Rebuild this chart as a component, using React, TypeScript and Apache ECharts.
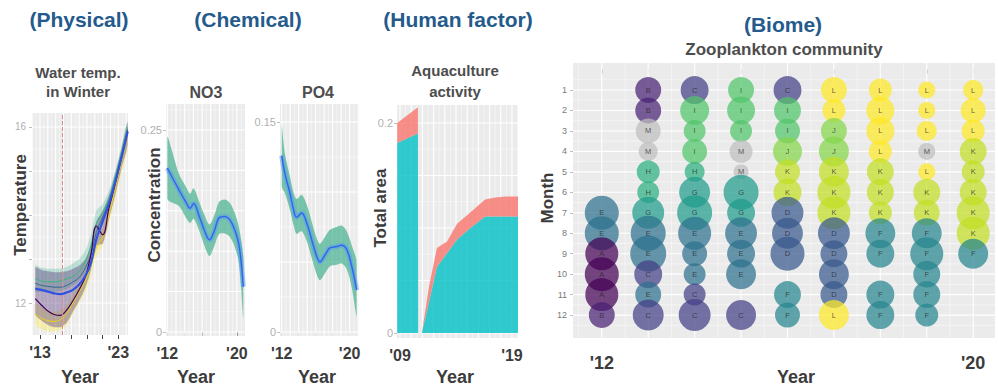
import React, { useEffect, useRef } from "react";
import * as echarts from "echarts";

const FONT = "'Liberation Sans', Arial, Helvetica, sans-serif";
const BG = "#EBEBEB";
const BLUE = "#245a8c";
const DARK = "#3c3c3c";
const TITLE = "#4d4d4d";

// ---------- Physical: water temperature in winter ----------
const tempYears = [2012.4, 2013.2, 2014.0, 2014.8, 2015.6, 2016.4, 2017.2, 2018.0, 2018.8, 2019.5, 2020.2, 2021.0, 2021.8, 2022.6, 2023.4, 2024.2];
const tempMain = [12.32, 12.3, 12.26, 12.22, 12.2, 12.24, 12.3, 12.42, 12.62, 12.9, 13.45, 13.85, 14.25, 14.75, 15.3, 15.9];
const tempPurple = [12.1, 11.95, 11.82, 11.74, 11.72, 11.84, 12.05, 12.3, 12.6, 13.1, 13.75, 13.55, 14.15, 14.7, 15.3, 15.9];
const tempYellow = [11.75, 11.65, 11.6, 11.58, 11.62, 11.76, 12.0, 12.25, 12.5, 12.85, 13.25, 13.5, 14.0, 14.6, 15.2, 15.8];
const tempGreen = [12.55, 12.5, 12.48, 12.48, 12.5, 12.55, 12.6, 12.72, 12.95, 13.3, 13.8, 14.05, 14.35, 14.85, 15.4, 16.0];
const tempNavy = [12.45, 12.4, 12.38, 12.36, 12.36, 12.4, 12.48, 12.58, 12.8, 13.1, 13.6, 13.95, 14.3, 14.75, 15.35, 15.95];
const tempPurpleLo = [11.75, 11.6, 11.5, 11.45, 11.45, 11.55, 11.8, 12.05, 12.35, 12.75, 13.3, 13.35, 13.9, 14.45, 15.05, 15.6];
const tempPurpleHi = [12.8, 12.75, 12.72, 12.7, 12.7, 12.72, 12.78, 12.85, 13.0, 13.3, 13.85, 14.1, 14.45, 14.95, 15.5, 16.1];
const tempGreenLo = [12.25, 12.25, 12.25, 12.25, 12.28, 12.32, 12.4, 12.5, 12.7, 13.05, 13.6, 13.9, 14.2, 14.65, 15.2, 15.75];
const tempGreenHi = [12.85, 12.8, 12.78, 12.78, 12.78, 12.82, 12.9, 13.0, 13.2, 13.55, 14.1, 14.25, 14.55, 15.0, 15.55, 16.15];
const tempYellowLo = [11.5, 11.4, 11.35, 11.35, 11.38, 11.5, 11.75, 12.0, 12.25, 12.6, 13.05, 13.3, 13.8, 14.35, 14.95, 15.5];
const tempYellowHi = [12.0, 11.9, 11.82, 11.8, 11.82, 11.95, 12.2, 12.45, 12.7, 13.05, 13.45, 13.7, 14.2, 14.8, 15.4, 16.0];
const tempBreakYear = 2015.85;
const tempXTicks = [2013, 2015, 2017, 2019, 2021, 2023];
const tempXLabels = [2013, 2023];
const tempYTicks = [12, 13, 14, 15, 16];
const tempYLabels = [12, 16];

// ---------- Chemical: NO3 ----------
const no3Years = [2012.0, 2013.34, 2014.12, 2014.63, 2015.02, 2015.68, 2016.26, 2016.85, 2017.43, 2017.94, 2018.6, 2019.18, 2019.77, 2020.27, 2020.74];
const no3Fit = [0.203, 0.176, 0.161, 0.153, 0.159, 0.143, 0.126, 0.114, 0.126, 0.141, 0.143, 0.139, 0.126, 0.106, 0.056];
const no3Upper = [0.242, 0.196, 0.18, 0.171, 0.178, 0.161, 0.145, 0.133, 0.145, 0.161, 0.164, 0.16, 0.147, 0.128, 0.092];
const no3Lower = [0.165, 0.156, 0.142, 0.135, 0.14, 0.125, 0.107, 0.094, 0.107, 0.121, 0.122, 0.118, 0.105, 0.083, 0.018];
const no3YLabels = [0, 0.25];

// ---------- Chemical: PO4 ----------
const po4Years = [2012.0, 2012.39, 2012.98, 2013.37, 2013.76, 2014.35, 2014.94, 2015.53, 2016.12, 2016.5, 2017.1, 2017.68, 2018.47, 2019.06, 2019.65, 2020.24, 2020.82];
const po4Fit = [0.126, 0.113, 0.099, 0.088, 0.082, 0.085, 0.078, 0.066, 0.054, 0.05, 0.055, 0.06, 0.061, 0.062, 0.059, 0.047, 0.03];
const po4Upper = [0.148, 0.127, 0.111, 0.1, 0.095, 0.098, 0.091, 0.079, 0.067, 0.063, 0.068, 0.073, 0.075, 0.076, 0.072, 0.062, 0.05];
const po4Lower = [0.104, 0.099, 0.087, 0.077, 0.07, 0.072, 0.065, 0.053, 0.041, 0.037, 0.042, 0.047, 0.048, 0.049, 0.045, 0.032, 0.011];
const po4YLabels = [0, 0.15];

const chemXTicks = [2012, 2014, 2016, 2018, 2020];
const chemXLabels = [2012, 2020];

// ---------- Human factor: aquaculture ----------
const aquaYears = [2008.75, 2010.6, 2010.62, 2010.95, 2011.6, 2012.3, 2013.2, 2014.1, 2015.4, 2016.6, 2017.5, 2018.5, 2019.55];
const aquaTeal = [0.181, 0.19, 0, 0, 0.03, 0.063, 0.076, 0.089, 0.101, 0.111, 0.111, 0.111, 0.111];
const aquaSalmon = [0.019, 0.025, 0, 0, 0.015, 0.018, 0.011, 0.015, 0.015, 0.016, 0.018, 0.019, 0.019];
const aquaXLabels = [2009, 2019];
const aquaYLabels = [0, 0.2];

// ---------- Biome: zooplankton community ----------
const zooYears = [2012, 2013, 2014, 2015, 2016, 2017, 2018, 2019, 2020];
const zooMonths = [1, 2, 3, 4, 5, 6, 7, 8, 9, 10, 11, 12];
const zooTaxa: string[][] = [
  ["", "", "", "", "", "", "E", "E", "A", "A", "A", "B"],
  ["B", "B", "M", "M", "H", "H", "G", "E", "E", "C", "E", "C"],
  ["C", "I", "I", "I", "H", "G", "G", "E", "E", "E", "C", "C"],
  ["I", "I", "I", "M", "M", "G", "G", "E", "E", "E", "", "C"],
  ["C", "I", "I", "J", "K", "K", "D", "D", "D", "", "F", "F"],
  ["L", "L", "J", "J", "K", "K", "K", "D", "D", "D", "D", "L"],
  ["L", "L", "L", "L", "K", "K", "K", "F", "F", "", "F", "F"],
  ["L", "L", "L", "M", "L", "K", "K", "F", "F", "F", "F", "F"],
  ["L", "L", "L", "K", "K", "K", "K", "K", "F", "", "", ""],
];
const zooAbundance: number[][] = [
  [0, 0, 0, 0, 0, 0, 17, 17, 16.5, 17, 16.5, 13],
  [13, 13, 12.5, 9.5, 11.5, 11, 16, 17.5, 18, 14, 13, 15.5],
  [14, 14.5, 11, 12.5, 10, 15.5, 17.5, 16.5, 12.5, 11, 11, 16],
  [13, 14, 11, 11.5, 7.5, 17.5, 14, 16, 14, 15, 0, 15],
  [14, 13.5, 12.5, 14.5, 12.5, 14, 16, 15.5, 17, 0, 13.5, 12.5],
  [13, 11.5, 13, 15, 15, 16.5, 16.5, 16, 13.5, 15, 13.5, 15],
  [11.5, 14, 14, 11.5, 13.5, 13.5, 11.5, 15, 14, 0, 14, 14],
  [8.5, 8.5, 10, 8.5, 8.5, 13.5, 13, 15, 16.5, 13.5, 13.5, 11.5],
  [10, 12.5, 11.5, 13.5, 11.5, 13.5, 16.5, 16.5, 15, 0, 0, 0],
];
const taxonColors: Record<string, string> = {
  A: "#440154", B: "#482173", C: "#433E85", D: "#38598C", E: "#2D708E", F: "#25858E",
  G: "#1E9B8A", H: "#2BB07F", I: "#51C56A", J: "#85D54A", K: "#C2DF23", L: "#FDE725", M: "#BEBEBE",
};
const zooXLabels = [2012, 2020];

// ---------- helpers ----------
function seq(from: number, to: number, step: number): number[] {
  const out: number[] = [];
  for (let v = from; v <= to + 1e-9; v += step) out.push(Math.round(v * 1000) / 1000);
  return out;
}

function gridLines(idx: number, xMajor: number[], xMinor: number[], yMajor: number[], yMinor: number[]) {
  const data: number[][] = [];
  xMinor.forEach((v) => data.push([0, v, 0.6]));
  yMinor.forEach((v) => data.push([1, v, 0.6]));
  xMajor.forEach((v) => data.push([0, v, 1.1]));
  yMajor.forEach((v) => data.push([1, v, 1.1]));
  return {
    type: "custom",
    xAxisIndex: idx,
    yAxisIndex: idx,
    silent: true,
    clip: true,
    z: 1,
    data,
    renderItem: (params: any, api: any) => {
      const cs = params.coordSys;
      const o = api.value(0);
      const v = api.value(1);
      const w = api.value(2);
      const stroke = w > 1 ? "#ffffff" : "rgba(255,255,255,0.75)";
      if (o === 0) {
        const x = api.coord([v, 0])[0];
        return { type: "line", shape: { x1: x, y1: cs.y, x2: x, y2: cs.y + cs.height }, style: { stroke, lineWidth: w } };
      }
      const y = api.coord([0, v])[1];
      return { type: "line", shape: { x1: cs.x, y1: y, x2: cs.x + cs.width, y2: y }, style: { stroke, lineWidth: w } };
    },
  };
}

function band(idx: number, xs: number[], lo: number[] | null, hi: number[], color: string, smooth: number, z = 2) {
  return {
    type: "custom",
    xAxisIndex: idx,
    yAxisIndex: idx,
    silent: true,
    clip: true,
    z,
    data: xs.map((x, i) => [x, lo ? lo[i] : 0, hi[i]]),
    renderItem: (params: any, api: any) => {
      if (params.dataIndexInside !== 0) return null;
      const n = params.dataInsideLength;
      const top: number[][] = [];
      const bot: number[][] = [];
      for (let i = 0; i < n; i++) {
        const x = api.value(0, i);
        top.push(api.coord([x, api.value(2, i)]));
        bot.push(api.coord([x, api.value(1, i)]));
      }
      const pts = top.concat(bot.reverse());
      let minX = Infinity, minY = Infinity, maxX = -Infinity, maxY = -Infinity;
      pts.forEach((p) => {
        minX = Math.min(minX, p[0]); maxX = Math.max(maxX, p[0]);
        minY = Math.min(minY, p[1]); maxY = Math.max(maxY, p[1]);
      });
      const shape: any = { points: pts };
      if (smooth > 0) {
        shape.smooth = smooth;
        shape.smoothConstraint = [[minX, minY], [maxX, maxY]];
      }
      return { type: "polygon", shape, style: { fill: color } };
    },
  };
}

function curve(idx: number, xs: number[], ys: number[], color: string, width: number, z = 3, extra: any = {}) {
  return {
    type: "line",
    xAxisIndex: idx,
    yAxisIndex: idx,
    data: xs.map((x, i) => [x, ys[i]]),
    smooth: 0.4,
    symbol: "none",
    silent: true,
    lineStyle: { color, width },
    z,
    ...extra,
  };
}

const yearFmt = (v: number) => "'" + String(Math.round(v)).slice(2);

function xAxis(idx: number, min: number, max: number, ticks: number[] | null, labels: number[], size: number, margin: number, tickColor: string) {
  return {
    gridIndex: idx,
    type: "value",
    min,
    max,
    splitLine: { show: false },
    axisLine: { show: false },
    axisTick: ticks
      ? { show: true, customValues: ticks, length: 4, lineStyle: { color: tickColor, width: 1 } }
      : { show: false },
    axisLabel: {
      customValues: labels,
      formatter: yearFmt,
      fontSize: size,
      fontWeight: "bold",
      color: DARK,
      fontFamily: FONT,
      margin,
    },
  };
}

function yAxis(idx: number, min: number, max: number, ticks: number[], labels: number[], size: number, color: string, margin: number, inverse = false) {
  return {
    gridIndex: idx,
    type: "value",
    min,
    max,
    inverse,
    splitLine: { show: false },
    axisLine: { show: false },
    axisTick: { show: true, customValues: ticks, length: 3, lineStyle: { color: "#bdbdbd", width: 1 } },
    axisLabel: { customValues: labels, fontSize: size, color, fontFamily: FONT, margin },
  };
}

function txt(text: string, x: number, y: number, size: number, color: string, rotate = false) {
  return {
    type: "text",
    x,
    y,
    rotation: rotate ? Math.PI / 2 : 0,
    silent: true,
    style: {
      text,
      fill: color,
      font: `bold ${size}px ${FONT}`,
      textAlign: "center",
      textVerticalAlign: "middle",
    },
  };
}

export default function App() {
  const ref = useRef<HTMLDivElement>(null);

  useEffect(() => {
    if (!ref.current) return;
    const chart = echarts.init(ref.current, null, { renderer: "svg" });

    const grids = [
      { left: 32, top: 113, width: 96, height: 222 },
      { left: 166, top: 104, width: 80, height: 232 },
      { left: 280, top: 104, width: 79, height: 232 },
      { left: 397, top: 105, width: 121, height: 233 },
      { left: 573, top: 63, width: 422, height: 275 },
    ].map((g) => ({ ...g, show: true, backgroundColor: BG, borderWidth: 0, containLabel: false }));

    const aquaTotal = aquaTeal.map((t, i) => t + aquaSalmon[i]);

    const zooPoints: any[] = [];
    zooYears.forEach((yr, j) => {
      zooMonths.forEach((m, i) => {
        const taxon = zooTaxa[j][i];
        if (!taxon) return;
        zooPoints.push({
          name: taxon,
          value: [yr, m, zooAbundance[j][i]],
          itemStyle: { color: taxonColors[taxon] },
        });
      });
    });

    const series: any[] = [
      gridLines(0, seq(2012, 2024, 1), seq(2012.5, 2024, 1), seq(12, 16, 1), seq(11.5, 16, 1)),
      gridLines(1, seq(2012, 2021, 1), seq(2011.5, 2021, 1), seq(0, 0.25, 0.05), seq(0.025, 0.275, 0.05)),
      gridLines(2, seq(2012, 2021, 1), seq(2011.5, 2021, 1), seq(0, 0.15, 0.05), seq(0.025, 0.15, 0.05)),
      gridLines(3, seq(2009, 2019, 1), seq(2008.5, 2019.5, 1), seq(0, 0.2, 0.05), seq(0.025, 0.2, 0.05)),
      gridLines(4, seq(2012, 2020, 1), seq(2011.5, 2020.5, 1), seq(1, 12, 1), seq(0.5, 12.5, 1)),

      band(0, tempYears, tempYellowLo, tempYellowHi, "rgba(253,231,37,0.3)", 0.3),
      band(0, tempYears, tempGreenLo, tempGreenHi, "rgba(40,170,130,0.25)", 0.3),
      band(0, tempYears, tempPurpleLo, tempPurpleHi, "rgba(72,40,110,0.36)", 0.3),
      curve(0, tempYears, tempYellow, "#e8d21c", 1),
      curve(0, tempYears, tempGreen, "#35b779", 1),
      curve(0, tempYears, tempNavy, "#31688e", 1),
      curve(0, tempYears, tempPurple, "#440154", 1.2),
      curve(0, tempYears, tempMain, "#2f52e0", 2.2, 4, {
        markLine: {
          silent: true,
          symbol: "none",
          label: { show: false },
          lineStyle: { color: "#d98c8c", type: "dashed", width: 1 },
          data: [{ xAxis: tempBreakYear }],
        },
      }),

      band(1, no3Years, no3Lower, no3Upper, "rgba(40,165,125,0.6)", 0.3),
      curve(1, no3Years, no3Fit, "rgba(90,160,235,0.55)", 5),
      curve(1, no3Years, no3Fit, "#3366ee", 1.5, 4),

      band(2, po4Years, po4Lower, po4Upper, "rgba(40,165,125,0.6)", 0.3),
      curve(2, po4Years, po4Fit, "rgba(90,160,235,0.55)", 5),
      curve(2, po4Years, po4Fit, "#3366ee", 1.5, 4),

      band(3, aquaYears, null, aquaTeal, "rgba(0,191,196,0.8)", 0),
      band(3, aquaYears, aquaTeal, aquaTotal, "rgba(248,118,109,0.8)", 0),

      {
        type: "scatter",
        xAxisIndex: 4,
        yAxisIndex: 4,
        data: zooPoints,
        symbolSize: (v: any) => (v && v[2] ? v[2] * 2 : 0),
        itemStyle: { opacity: 0.72 },
        label: { show: true, position: "inside", formatter: "{b}", fontSize: 7.5, color: "#222222", fontFamily: FONT },
        silent: true,
        z: 3,
      },
    ];

    const graphic = [
      txt("(Physical)", 79, 19, 21, BLUE),
      txt("(Chemical)", 248, 19, 21, BLUE),
      txt("(Human factor)", 458, 19, 21, BLUE),
      txt("(Biome)", 783, 24, 21, BLUE),
      txt("Water temp.", 78, 72, 15, TITLE),
      txt("in Winter", 78, 91, 15, TITLE),
      txt("NO3", 206, 92, 16, TITLE),
      txt("PO4", 318, 92, 16, TITLE),
      txt("Aquaculture", 455, 70, 15, TITLE),
      txt("activity", 455, 91, 15, TITLE),
      txt("Zooplankton community", 784, 49, 17, TITLE),
      txt("Temperature", 20, 205, 17, DARK, true),
      txt("Concentration", 154, 205, 17, DARK, true),
      txt("Total area", 380, 208, 17, DARK, true),
      txt("Month", 547, 198, 17, DARK, true),
      txt("Year", 80, 377, 18, DARK),
      txt("Year", 196, 377, 18, DARK),
      txt("Year", 317, 377, 18, DARK),
      txt("Year", 455, 377, 18, DARK),
      txt("Year", 796, 377, 18, DARK),
    ];

    chart.setOption({
      animation: false,
      backgroundColor: "#ffffff",
      textStyle: { fontFamily: FONT },
      grid: grids,
      xAxis: [
        xAxis(0, 2011.98, 2024.24, tempXTicks, tempXLabels, 16, 9, "#444"),
        xAxis(1, 2011.85, 2021.05, chemXTicks, chemXLabels, 16, 9, "#444"),
        xAxis(2, 2011.8, 2021.1, chemXTicks, chemXLabels, 16, 9, "#444"),
        xAxis(3, 2008.73, 2019.54, null, aquaXLabels, 16, 9, "#444"),
        xAxis(4, 2011.38, 2020.47, zooYears, zooXLabels, 18, 16, "#bbbbbb"),
      ],
      yAxis: [
        yAxis(0, 11.273, 16.318, tempYTicks, tempYLabels, 10, "#b0b0b0", 6),
        yAxis(1, -0.005, 0.2822, no3YLabels, no3YLabels, 11, "#b0b0b0", 4),
        yAxis(2, -0.0029, 0.1629, po4YLabels, po4YLabels, 11, "#b0b0b0", 4),
        yAxis(3, -0.0048, 0.2171, aquaYLabels, aquaYLabels, 11, "#b0b0b0", 4),
        yAxis(4, -0.32, 13.12, zooMonths, zooMonths, 9, "#7a7a7a", 6, true),
      ],
      series,
      graphic,
    });

    return () => chart.dispose();
  }, []);

  return (
    <div
      ref={ref}
      style={{ position: "absolute", left: 0, top: 0, width: 998, height: 388, background: "#fff" }}
    />
  );
}
